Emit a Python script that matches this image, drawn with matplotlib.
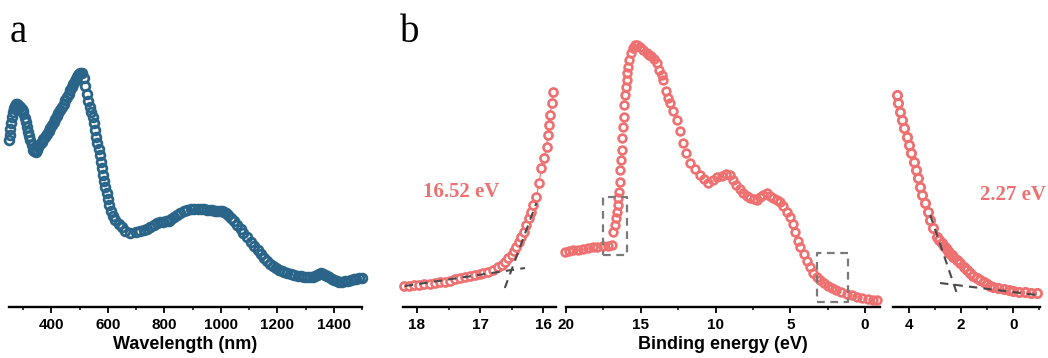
import numpy as np
import matplotlib
matplotlib.use("Agg")
import matplotlib.pyplot as plt
from matplotlib.ticker import MultipleLocator

# panel a: absorption spectrum (arb. units)
wavelength = [250, 252, 255, 258, 262, 265, 269, 272, 276, 279, 283, 286, 290, 295, 298, 301,
              305, 309, 313, 317, 321, 325, 330, 336, 340, 345, 349, 354, 360, 366, 372, 378,
              384, 390, 396, 402, 408, 414, 420, 425, 431, 437, 443, 449, 455, 461, 467, 473,
              478, 482, 486, 490, 494, 498, 503, 508, 514, 520, 526, 531, 536,
              541, 546, 550, 553, 558, 563, 567, 571, 576, 579, 582, 586, 591, 596, 600, 605,
              612, 618, 627, 638, 650, 662, 680, 700, 715, 727, 740, 750, 762, 775, 785, 795,
              805, 816, 825, 835, 846, 857, 868, 880, 893, 905, 918, 930, 941, 952, 962, 970,
              980, 988, 997, 1005, 1012, 1017, 1025, 1035, 1047, 1059, 1070, 1080, 1093, 1106,
              1118, 1130, 1142, 1153, 1164, 1175, 1185, 1195, 1205, 1215, 1225, 1236, 1248,
              1260, 1272, 1284, 1295, 1305, 1315, 1325, 1333, 1340, 1348, 1355, 1362, 1370,
              1377, 1384, 1392, 1400, 1410, 1420, 1430, 1440, 1450, 1461, 1470, 1480, 1491, 1500]
absorb = [167, 172, 178, 184, 190, 195, 199, 201, 203, 203, 202, 201, 200, 198, 196, 194,
          189, 185, 180, 175, 171, 167, 162, 157, 156, 155, 157, 160, 163, 165, 168, 170,
          173, 176, 179, 182, 185, 188, 191, 194, 197, 200, 203, 207, 210, 213, 217, 220,
          223, 226, 228, 230, 232, 233, 234, 234, 229, 221, 213, 206, 200,
          195, 190, 184, 177, 170, 164, 158, 152, 145, 139, 132, 126, 120, 114, 108, 102,
          96, 91, 87, 83, 80, 76, 74, 75, 76, 77, 78, 80, 82, 84, 85, 85,
          86, 86, 88, 90, 92, 94, 96, 97, 98, 98, 98, 98, 98, 97, 97, 97,
          96, 96, 96, 96, 95, 94, 92, 89, 86, 82, 78, 74, 70, 65,
          61, 57, 53, 49, 46, 43, 41, 39, 37, 36, 35, 34, 33,
          32, 31, 31, 30, 30, 30, 30, 31, 32, 33, 34, 33, 32,
          31, 30, 28, 27, 26, 25, 25, 26, 26, 27, 28, 28, 29, 29]

# panel b: UPS full spectrum
be_full = [20.07, 19.8, 19.5, 19.2, 18.84, 18.55, 18.2, 17.9, 17.5, 17.2, 16.95, 16.84, 16.72,
           16.68, 16.61, 16.54, 16.50, 16.46, 16.41, 16.39, 16.34, 16.28, 16.24, 16.17, 16.12,
           16.10, 16.06, 16.01, 15.94, 15.90, 15.84, 15.77, 15.66, 15.50, 15.38, 15.23, 15.05,
           14.85, 14.61, 14.45, 14.3, 14.1, 13.94, 13.75, 13.6, 13.49, 13.3, 13.15, 13.05, 12.85,
           12.6, 12.4, 12.16, 11.95, 11.71, 11.4, 11.04, 10.75, 10.49, 10.2, 9.93, 9.6, 9.3, 9.04,
           8.8, 8.6, 8.35, 8.15, 7.9, 7.7, 7.45, 7.25, 7.0, 6.8, 6.59, 6.35, 6.15, 5.9, 5.7,
           5.5, 5.25, 5.03, 4.85, 4.7, 4.5, 4.36, 4.1, 3.9, 3.69, 3.45, 3.2, 3.02, 2.75, 2.5,
           2.2, 1.91, 1.6, 1.2, 0.9, 0.57, 0.2, -0.2, -0.5, -0.77]
ups_full = [55, 56, 57, 57, 58, 59, 60, 60, 61, 61, 62, 75, 82,
            89, 95, 102, 109, 115, 125, 137, 147, 157, 169, 180, 190,
            202, 212, 220, 227, 234, 240, 247, 254, 259, 262, 262, 260,
            257, 254, 252, 251, 248, 244, 237, 232, 227, 216, 209, 204, 196,
            187, 176, 164, 154, 144, 138, 132, 128, 124, 127, 130, 131, 133, 132,
            127, 122, 118, 114, 111, 109, 108, 107, 110, 112, 114, 111, 109, 107, 105,
            101, 95, 90, 83, 75, 66, 60, 53, 46, 40, 34, 30, 27, 24, 21,
            19, 17, 15, 13, 12, 10, 9, 8, 7, 7]

# panel b: secondary electron cutoff (zoom)
be_cut = [18.2, 18.12, 18.04, 17.96, 17.88, 17.8, 17.72, 17.64, 17.56, 17.48, 17.4, 17.32,
          17.24, 17.16, 17.08, 17.0, 16.95, 16.87, 16.79, 16.72, 16.66, 16.61, 16.56, 16.50,
          16.47, 16.43, 16.38, 16.35, 16.31, 16.27, 16.23, 16.19, 16.16, 16.11, 16.07, 16.03,
          15.99, 15.95, 15.93, 15.91, 15.89, 15.87, 15.85]
ups_cut = [21, 21.5, 22, 22.5, 23, 23.5, 24, 25, 25.5, 26.5, 28, 29,
           30, 31, 32, 33, 34, 35, 37, 40, 42, 45, 49, 52,
           56, 60, 65, 70, 75, 82, 89, 95, 102, 110, 124, 139,
           149, 160, 172, 182, 192, 204, 215]
cut_base_x = [18.19, 16.29]
cut_base_y = [21, 39]
cut_edge_x = [16.61, 16.11]
cut_edge_y = [19, 104]

# panel b: valence band edge (zoom)
be_vb = [4.47, 4.41, 4.35, 4.26, 4.18, 4.09, 4.0, 3.92, 3.83, 3.74, 3.67, 3.58, 3.49, 3.38,
         3.28, 3.19, 3.07, 2.93, 2.85, 2.74, 2.67, 2.6, 2.52, 2.45, 2.37, 2.30, 2.17, 2.04,
         1.91, 1.78, 1.65, 1.53, 1.4, 1.27, 1.14, 1.01, 0.88, 0.76, 0.57, 0.37, 0.18, -0.01,
         -0.23, -0.46, -0.68, -0.91]
ups_vb = [212, 204, 195, 187, 179, 170, 162, 154, 145, 137, 129, 120, 112, 104,
          95, 87, 79, 70, 67, 64, 61, 59, 56, 54, 52, 50, 47, 44,
          40, 37, 34, 31, 29, 27, 25, 23, 21, 20, 19, 18, 17, 16,
          15.5, 15, 14.5, 14]
vb_edge_x = [3.19, 2.17]
vb_edge_y = [92, 14]
vb_base_x = [2.81, -0.91]
vb_base_y = [24, 12]

# dashed boxes on the full spectrum: (E left, E right, I low, I high)
boxes = [(17.55, 15.9, 52, 110), (3.24, 1.13, 5, 54)]

blue = "#2a6589"
red = "#ee7070"
dash = "#4a4a4a"

plt.rcParams["font.family"] = ["Liberation Sans", "DejaVu Sans"]
plt.rcParams["font.weight"] = "bold"

fig = plt.figure(figsize=(10.48, 3.58), dpi=100)
W, H = 1048.0, 358.0
bot = (H - 307) / H
hgt = (307 - 35) / H


def make_ax(x0, x1, xlim, major, minor):
    ax = fig.add_axes([x0 / W, bot, (x1 - x0) / W, hgt])
    ax.set_xlim(*xlim)
    ax.set_ylim(0, 272)
    for s in ["top", "right", "left"]:
        ax.spines[s].set_visible(False)
    ax.spines["bottom"].set_linewidth(1.7)
    ax.set_yticks([])
    ax.xaxis.set_major_locator(MultipleLocator(major))
    ax.xaxis.set_minor_locator(MultipleLocator(minor))
    ax.tick_params(axis="x", which="major", direction="out", length=4, width=1.3,
                   labelsize=11, pad=4)
    ax.tick_params(axis="x", which="minor", direction="out", length=2.5, width=1.1)
    for lab in ax.get_xticklabels():
        lab.set_fontweight("bold")
    ax.patch.set_alpha(0)
    return ax


# a
ax_a = make_ax(9, 362, (250, 1500), 200, 100)
ax_a.plot(wavelength, absorb, "o", ms=6.3, mfc="none", mec=blue, mew=2.0, clip_on=False)
ax_a.set_xlabel("Wavelength (nm)", fontsize=13, fontweight="bold", labelpad=3)
fig.text(10 / W, 1 - 42 / H, "a", family="Liberation Serif", fontsize=28, fontweight="normal")

# b left: cutoff zoom
ax_b1 = make_ax(403, 556, (18.22, 15.8), 1, 0.5)
ax_b1.plot(be_cut, ups_cut, "-", color=red, lw=0.8, clip_on=False)
ax_b1.plot(be_cut, ups_cut, "o", ms=5.8, mfc="white", mec=red, mew=1.9, clip_on=False)
ax_b1.plot(cut_base_x, cut_base_y, "--", color=dash, lw=1.5, dashes=(4, 3))
ax_b1.plot(cut_edge_x, cut_edge_y, "--", color=dash, lw=1.5, dashes=(4, 3))
ax_b1.text(17.3, 115, "16.52 eV", color=red, family="Liberation Serif", fontsize=15,
           fontweight="bold", ha="center", va="center")
fig.text(400 / W, 1 - 42 / H, "b", family="Liberation Serif", fontsize=28, fontweight="normal")

# b middle: full spectrum
ax_b2 = make_ax(566, 880, (20, -1.0), 5, 2.5)
ax_b2.plot(be_full, ups_full, "o", ms=5.6, mfc="none", mec=red, mew=1.9, clip_on=False)
for e0, e1, i0, i1 in boxes:
    ax_b2.plot([e0, e1, e1, e0, e0], [i0, i0, i1, i1, i0], "--", color="#7a7a7a",
               lw=1.6, dashes=(3.5, 2.5))
ax_b2.set_xlabel("Binding energy (eV)", fontsize=13, fontweight="bold", labelpad=3)

# b right: valence band zoom
ax_b3 = make_ax(893, 1040, (4.62, -1.03), 2, 1)
ax_b3.plot(be_vb, ups_vb, "o", ms=6.0, mfc="none", mec=red, mew=2.0, clip_on=False)
ax_b3.plot(vb_edge_x, vb_edge_y, "--", color=dash, lw=1.5, dashes=(4, 3))
ax_b3.plot(vb_base_x, vb_base_y, "--", color=dash, lw=1.5, dashes=(4, 3))
ax_b3.text(0.0, 112, "2.27 eV", color=red, family="Liberation Serif", fontsize=15,
           fontweight="bold", ha="center", va="center")

fig.savefig("out.png", dpi=100)
